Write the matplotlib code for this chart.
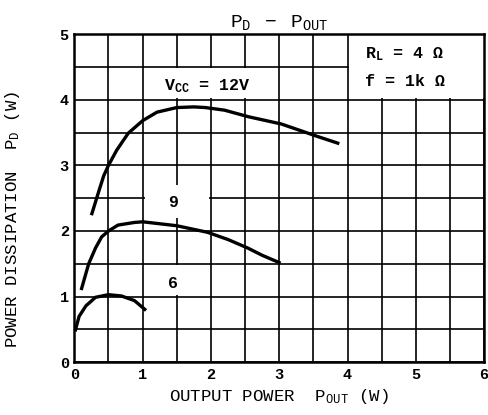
import matplotlib
matplotlib.use("Agg")
from matplotlib import pyplot as plt
from matplotlib.patches import Rectangle
import numpy as np

plt.rcParams["font.family"] = ["Liberation Mono", "DejaVu Sans Mono"]
plt.rcParams["font.weight"] = "bold"
plt.rcParams["mathtext.fontset"] = "custom"
plt.rcParams["mathtext.rm"] = "Liberation Mono:bold"
plt.rcParams["mathtext.it"] = "Liberation Mono:bold"

# curves (P_OUT in W, P_D in W)
vcc12_x = [0.25, 0.36, 0.43, 0.50, 0.62, 0.79, 1.00, 1.21, 1.50, 1.75, 1.92, 2.20, 2.55, 3.03, 3.56, 3.88]
vcc12_y = [2.24, 2.61, 2.84, 3.00, 3.23, 3.49, 3.68, 3.81, 3.88, 3.89, 3.88, 3.84, 3.74, 3.63, 3.44, 3.33]

vcc9_x = [0.10, 0.21, 0.31, 0.40, 0.50, 0.64, 0.88, 1.00, 1.50, 1.95, 2.25, 2.54, 2.75, 3.02]
vcc9_y = [1.10, 1.50, 1.74, 1.91, 2.00, 2.09, 2.13, 2.14, 2.08, 1.98, 1.87, 1.74, 1.63, 1.51]

vcc6_x = [0.01, 0.07, 0.17, 0.31, 0.50, 0.69, 0.88, 1.05]
vcc6_y = [0.47, 0.70, 0.86, 0.99, 1.03, 1.01, 0.94, 0.79]

x_ticks = [0, 1, 2, 3, 4, 5, 6]
y_ticks = [0, 1, 2, 3, 4, 5]

fig = plt.figure(figsize=(4.89, 4.15), dpi=100)
ax = fig.add_axes([0.152, 0.127, 0.838, 0.791])

ax.set_xlim(0, 6)
ax.set_ylim(0, 5)
ax.set_xticks(x_ticks)
ax.set_yticks(y_ticks)
ax.set_xticks(np.arange(0, 6.01, 0.5), minor=True)
ax.set_yticks(np.arange(0, 5.01, 0.5), minor=True)
ax.tick_params(which="both", length=0)
ax.tick_params(labelsize=11, pad=4)
ax.grid(which="both", color="black", linewidth=1.2, zorder=1)
ax.set_axisbelow(True)
for s in ax.spines.values():
    s.set_linewidth(1.8)

# white label areas that break the grid
for (x0, y0, w, h) in [(1.03, 4.02, 1.94, 0.46), (4.02, 4.02, 1.98, 0.98),
                       (1.03, 2.2, 0.94, 0.5), (1.03, 1.03, 0.94, 0.45)]:
    ax.add_patch(Rectangle((x0, y0), w, h, facecolor="white", edgecolor="none", zorder=1.5))

for xs, ys in [(vcc12_x, vcc12_y), (vcc9_x, vcc9_y), (vcc6_x, vcc6_y)]:
    ax.plot(xs, ys, color="black", linewidth=2.4, solid_capstyle="butt",
            solid_joinstyle="round", zorder=3)

ax.text(1.95, 4.21, r"V$\mathregular{_{CC}}$ = 12V", ha="center", va="center", fontsize=12, zorder=4)
ax.text(1.44, 2.43, "9", ha="center", va="center", fontsize=12, zorder=4)
ax.text(1.44, 1.20, "6", ha="center", va="center", fontsize=12, zorder=4)
ax.text(4.26, 4.70, r"R$\mathregular{_L}$ = 4 Ω", ha="left", va="center", fontsize=12, zorder=4)
ax.text(4.26, 4.28, "f = 1k Ω", ha="left", va="center", fontsize=12, zorder=4)

ax.set_title(r"$\mathregular{P_D\ \ \ -\ \ \ P_{OUT}}$", fontsize=14, pad=5)
ax.set_xlabel(r"OUTPUT POWER  P$\mathregular{_{OUT}}$ (W)", fontsize=12.5, labelpad=4)
ax.set_ylabel(r"POWER DISSIPATION  P$\mathregular{_D}$ (W)", fontsize=12.5)
ax.yaxis.set_label_coords(-0.127, 0.435)

plt.savefig("out.png", dpi=100)
